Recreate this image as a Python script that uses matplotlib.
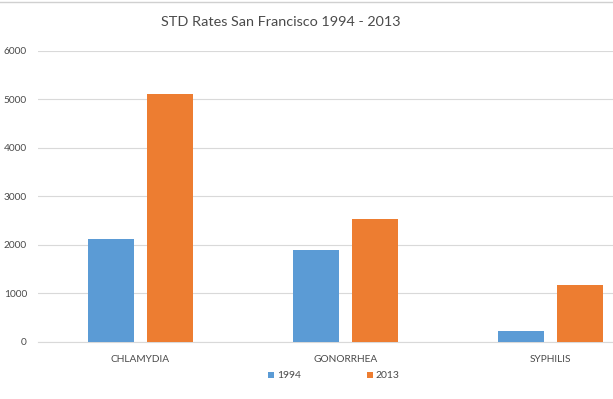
import matplotlib
matplotlib.use("Agg")
import matplotlib.pyplot as plt
import numpy as np

categories = ["CHLAMYDIA", "GONORRHEA", "SYPHILIS"]
series_names = ["1994", "2013"]
values_1994 = [2110, 1880, 220]
values_2013 = [5110, 2520, 1170]
yticks = [0, 1000, 2000, 3000, 4000, 5000, 6000]
title = "STD Rates San Francisco 1994 - 2013"

plt.rcParams['font.family'] = ['Lato', 'DejaVu Sans']
W, H = 613, 399
fig = plt.figure(figsize=(W/100, H/100), dpi=100)
ax = fig.add_axes([38/W, 1-341.5/H, 615/W, (341.5-51)/H])

x = np.arange(len(categories))
bw = 0.224
c1, c2 = "#5B9BD5", "#ED7D31"
ax.bar(x - 0.143, values_1994, bw, color=c1, label=series_names[0], zorder=3)
ax.bar(x + 0.143, values_2013, bw, color=c2, label=series_names[1], zorder=3)

ax.set_xlim(-0.5, 2.5)
ax.set_ylim(0, 6000)
ax.set_yticks(yticks)
ax.set_yticklabels([str(v) for v in yticks])
ax.set_xticks(x)
ax.set_xticklabels(categories)
ax.tick_params(axis='both', length=0, colors="#4a4a4a", labelsize=7.3)
ax.tick_params(axis='y', pad=8)
ax.tick_params(axis='x', pad=10)
ax.grid(axis='y', color="#d9d9d9", lw=0.8, zorder=0)
for s in ["top", "right", "left"]:
    ax.spines[s].set_visible(False)
ax.spines["bottom"].set_color("#d9d9d9")
ax.spines["bottom"].set_linewidth(0.8)

fig.text(281/W, 1-22/H, title, ha='center', va='center', fontsize=10.4, color="#4a4a4a")

fig.legend(loc='center', bbox_to_anchor=(334/W, 1-376/H), ncol=2, frameon=False,
           handlelength=0.55, handleheight=0.55, handletextpad=0.3, columnspacing=6.3,
           fontsize=7.5, labelcolor="#4a4a4a")

fig.add_artist(plt.Line2D([0, 1], [1-1.5/H, 1-1.5/H], transform=fig.transFigure, color="#d0d0d0", lw=1))

fig.savefig("out.png", dpi=100)
